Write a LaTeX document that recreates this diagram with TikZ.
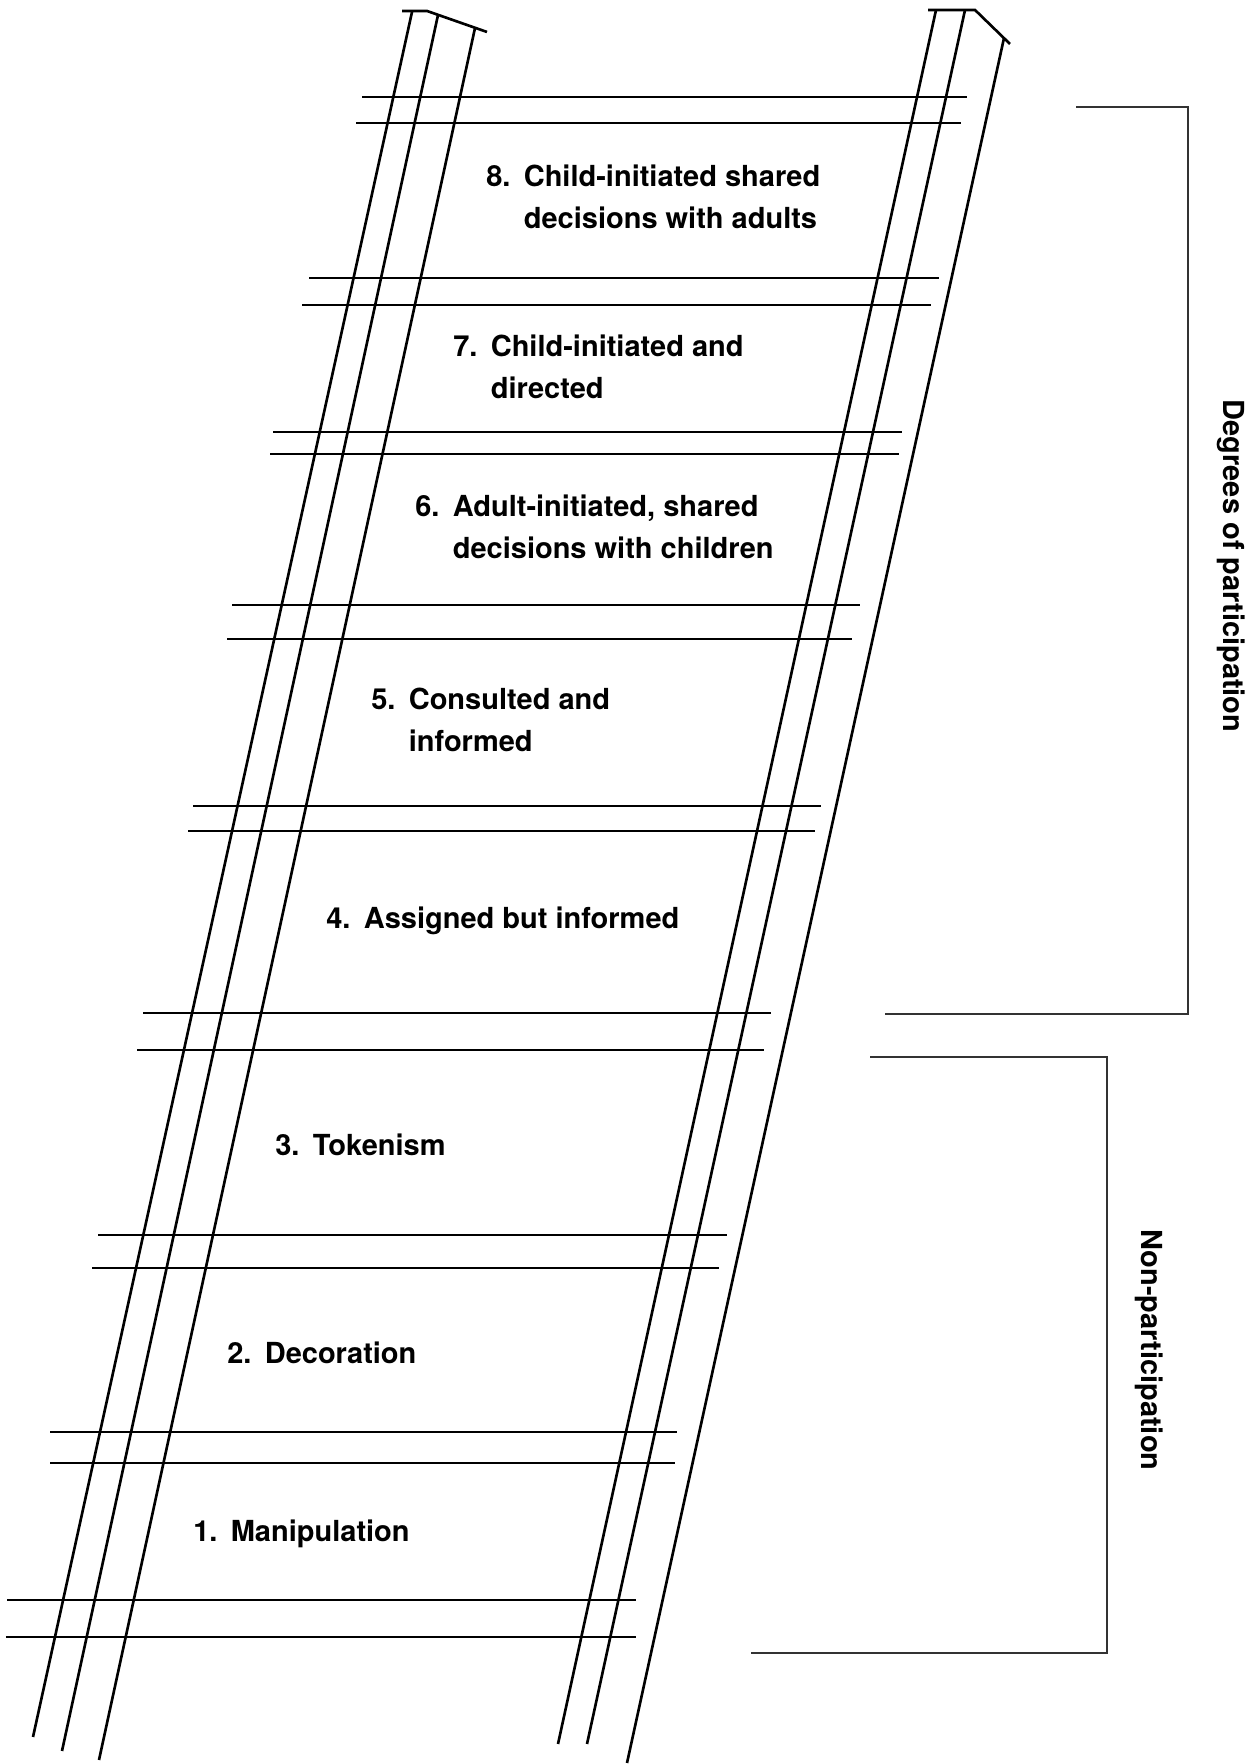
\documentclass[tikz,border=0pt]{standalone}
\usepackage{fontspec}
\setmainfont{TeX Gyre Heros}

\begin{document}
\begin{tikzpicture}[line width=0.75pt,
  lbl/.style={anchor=base west,inner sep=0pt,font=\fontsize{8.25}{11.9}\selectfont\bfseries},
  side/.style={anchor=base,rotate=-90,inner sep=0pt,font=\fontsize{8.25}{10}\selectfont\bfseries}]
\useasboundingbox (0,0) rectangle (12.54,17.64);

% left pair of rails
\draw (4.02,17.53) -- (4.27,17.53) -- (4.87,17.32);
\draw (4.12,17.52) -- (0.33,0.27);
\draw (4.38,17.49) -- (0.62,0.13);
\draw (4.75,17.36) -- (0.99,0.04);

% right pair of rails
\draw (9.28,17.54) -- (9.75,17.54) -- (10.10,17.20);
\draw (9.36,17.54) -- (5.58,0.20);
\draw (9.65,17.54) -- (5.87,0.20);
\draw (10.04,17.26) -- (6.27,0.01);

% rungs
\foreach \y/\a/\b in {16.67/3.62/9.67, 16.41/3.56/9.61, 14.86/3.09/9.39, 14.59/3.02/9.31,
  13.32/2.73/9.02, 13.10/2.70/8.99, 11.59/2.32/8.60, 11.25/2.27/8.52,
  9.58/1.93/8.21, 9.33/1.88/8.15, 7.51/1.43/7.71, 7.14/1.37/7.64,
  5.29/0.98/7.27, 4.96/0.92/7.19, 3.32/0.50/6.77, 3.01/0.50/6.75,
  1.64/0.07/6.36, 1.27/0.06/6.36}
  \draw (\a,\y) -- (\b,\y);

\node[lbl] (step8) at (4.85,15.77) {\begin{tabular}[t]{@{}l@{\hspace{3.8pt}}l@{}}8. & Child-initiated shared\\ & decisions with adults\end{tabular}};
\node[lbl] (step7) at (4.52,14.07) {\begin{tabular}[t]{@{}l@{\hspace{3.8pt}}l@{}}7. & Child-initiated and\\ & directed\end{tabular}};
\node[lbl] (step6) at (4.14,12.47) {\begin{tabular}[t]{@{}l@{\hspace{3.8pt}}l@{}}6. & Adult-initiated, shared\\ & decisions with children\end{tabular}};
\node[lbl] (step5) at (3.70,10.54) {\begin{tabular}[t]{@{}l@{\hspace{3.8pt}}l@{}}5. & Consulted and\\ & informed\end{tabular}};
\node[lbl] (step4) at (3.25,8.35) {4.\hspace{3.8pt}Assigned but informed};
\node[lbl] (step3) at (2.74,6.08) {3.\hspace{3.8pt}Tokenism};
\node[lbl] (step2) at (2.26,4.00) {2.\hspace{3.8pt}Decoration};
\node[lbl] (step1) at (1.92,2.22) {1.\hspace{3.8pt}Manipulation};

% brackets
\draw[black!80] (10.76,16.57) -- (11.88,16.57) -- (11.88,7.50) -- (8.85,7.50);
\draw[black!80] (8.70,7.07) -- (11.07,7.07) -- (11.07,1.11) -- (7.51,1.11);
\node[side] (degrees) at (12.23,11.98) {Degrees of participation};
\node[side] (nonpart) at (11.41,4.14) {Non-participation};
\end{tikzpicture}
\end{document}
